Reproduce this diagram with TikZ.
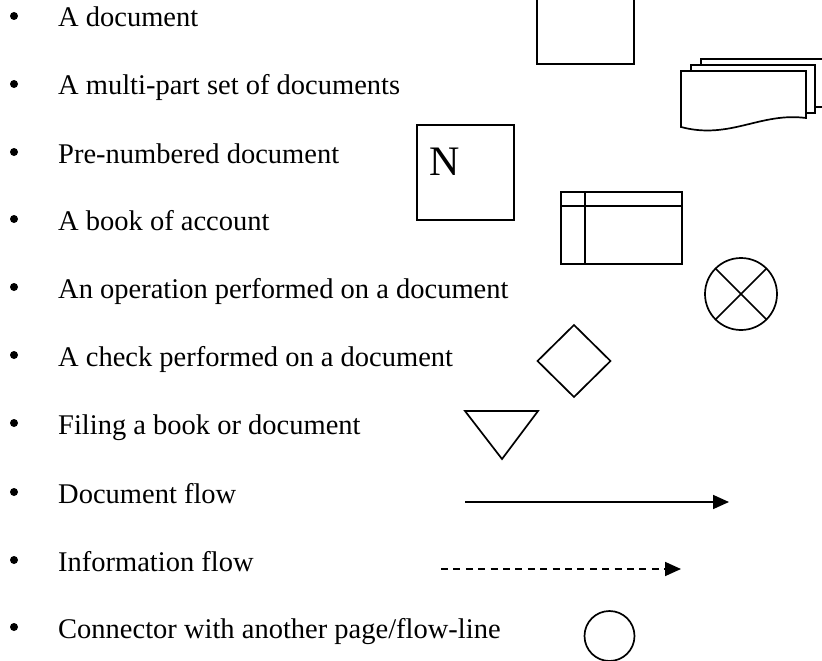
\documentclass[tikz,border=0pt]{standalone}
\usepackage{fontspec}
\newfontfamily\nfont{Liberation Serif}
\suppressfontnotfounderror=1
\font\testgar="[EBGaramond-Regular.otf]" at 10pt
\ifx\testgar\nullfont
  \setmainfont{Liberation Serif}\def\lblsize{28.5}
\else
  \setmainfont{EBGaramond-Regular.otf}\def\lblsize{27.5}
\fi
\suppressfontnotfounderror=0
\usetikzlibrary{arrows.meta}
\tikzset{
  sym/.style={draw=black, line width=1.7pt, line join=miter},
  lbl/.style={anchor=base west, inner sep=0pt, font=\fontsize{\lblsize}{30}\selectfont},
  bul/.style={circle, fill=black, inner sep=0pt, minimum size=8pt},
  flow/.style={line width=1.7pt, -{Triangle[length=16pt,width=14pt]}},
}
\begin{document}
\begin{tikzpicture}[x=1pt,y=-1pt]
\useasboundingbox (0,0) rectangle (822,661);
\clip (0,0) rectangle (822,661);

% bullets and labels
\foreach \i/\b/\t in {1/27/{A document}, 2/95/{A multi-part set of documents}, 3/163/{Pre-numbered document},
  4/230/{A book of account}, 5/298/{An operation performed on a document}, 6/366/{A check performed on a document},
  7/434/{Filing a book or document}, 8/503/{Document flow}, 9/571/{Information flow},
  10/638/{Connector with another page/flow-line}}{
  \node[bul] (b\i) at (14,\b-11) {};
  \node[lbl] (t\i) at (58,\b) {\t};
}

% 1 document
\draw[sym] (537,-20) rectangle (634,64);

% 2 multi-part set
\draw[sym, fill=white] (701,59) rectangle (840,107);
\draw[sym, fill=white] (691,65) rectangle (815,113);
\draw[sym, fill=white] (681,71) -- (806,71) -- (806,118)
  .. controls (760,112) and (730,140) .. (681,127) -- cycle;

% 3 pre-numbered
\node[sym, minimum width=97pt, minimum height=95pt, inner sep=0pt] (nbox) at (465.5,172.5) {};
\node[anchor=base, inner sep=0pt, font=\nfont\fontsize{42}{42}\selectfont] (nlet) at (445,175) {N};

% 4 book of account
\draw[sym] (561,192) rectangle (682,264);
\draw[sym] (561,206) -- (682,206);
\draw[sym] (585,192) -- (585,264);

% 5 operation
\draw[sym] (741,294) circle (36);
\draw[sym] (741,294) ++(45:36) -- ++(225:72);
\draw[sym] (741,294) ++(135:36) -- ++(315:72);

% 6 check
\draw[sym] (574,325) -- (610.5,361) -- (574,397) -- (537.5,361) -- cycle;

% 7 filing
\draw[sym] (465,411) -- (538,411) -- (502,459) -- cycle;

% 8 document flow
\coordinate (d1) at (465,502);
\coordinate (d2) at (729,502);
\draw[flow] (d1) -- (d2);

% 9 information flow
\coordinate (i1) at (441,569);
\coordinate (i2) at (681,569);
\draw[flow, dash pattern=on 7pt off 5.4pt] (i1) -- (i2);

% 10 connector
\draw[sym] (609.5,636) circle (25);
\end{tikzpicture}
\end{document}
